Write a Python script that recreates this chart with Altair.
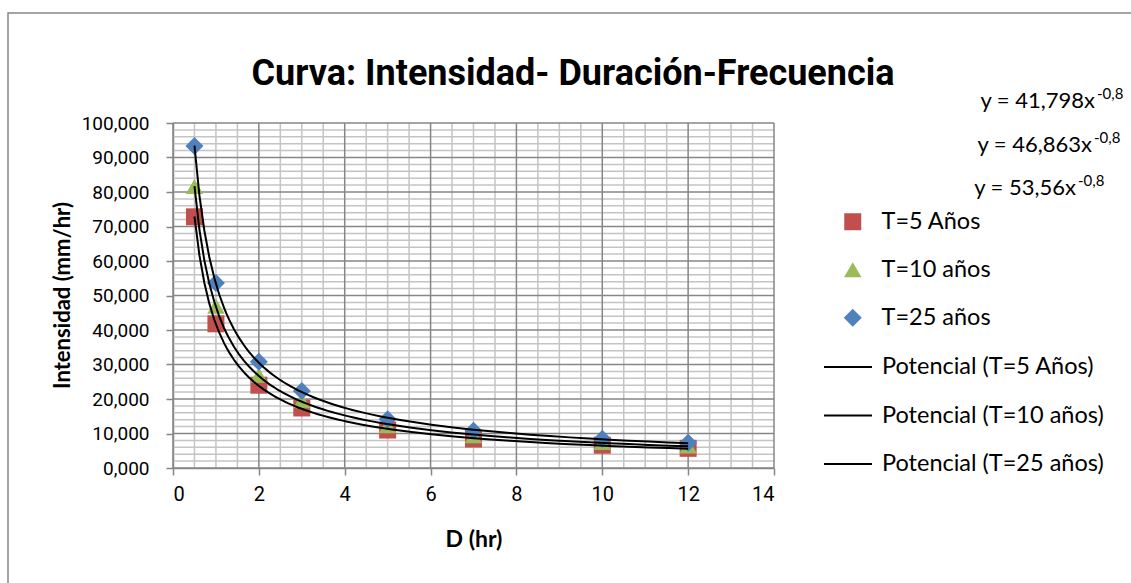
import altair as alt
import pandas as pd

# Duration (hr) and rainfall intensity (mm/hr) for each return period
durations = [0.5, 1, 2, 3, 5, 7, 10, 12]
t5 = [72.8, 41.8, 24.0, 17.4, 11.0, 8.4, 6.6, 5.7]
t10 = [81.6, 46.9, 26.9, 19.5, 12.3, 9.4, 7.4, 6.4]
t25 = [93.3, 53.6, 30.8, 22.3, 14.1, 10.8, 8.5, 7.3]

series = ["T=5 Años", "T=10 años", "T=25 años"]
trend_labels = ["Potencial (T=5 Años)", "Potencial (T=10 años)", "Potencial (T=25 años)"]
colors = ["#C0504D", "#9BBB59", "#4F81BD"]
shapes = ["square", "triangle-up", "diamond"]
marker_sizes = [289, 324, 420]

equations = ["y = 41,798x", "y = 46,863x", "y = 53,56x"]
exponent = "-0,8"
title_text = "Curva: Intensidad- Duración-Frecuencia"

NARROW = "Roboto"
SANS = "Lato"
MAJOR = "#868686"
MINOR = "#C4C4C4"

rows = []
for name, values in zip(series, [t5, t10, t25]):
    for d, v in zip(durations, values):
        rows.append({"D": d, "I": v, "serie": name})
df = pd.DataFrame(rows)

xs = alt.Scale(domain=[0, 14], nice=False, zero=False)
ys = alt.Scale(domain=[0, 100], nice=False)

x_axis = alt.Axis(
    values=list(range(0, 15, 2)), grid=False, tickSize=7, tickWidth=1.5,
    tickColor=MAJOR, domainColor=MAJOR, domainWidth=1.5,
    labelFont=NARROW, labelFontSize=20, labelColor="black", labelPadding=9,
    title="D (hr)", titleFont=SANS, titleFontSize=23, titleFontWeight="bold",
    titleColor="black", titleY=60, titleBaseline="top",
)
y_axis = alt.Axis(
    values=list(range(0, 101, 10)), grid=False, tickSize=7, tickWidth=1.5,
    tickColor=MAJOR, domainColor=MAJOR, domainWidth=1.5,
    labelFont=NARROW, labelFontSize=19, labelColor="black", labelPadding=17,
    labelExpr="replace(format(datum.value, '.3f'), '.', ',')",
    title="Intensidad (mm/hr)", titleFont=SANS, titleFontSize=22,
    titleFontWeight="bold", titleColor="black",
    titleX=-111, titleY=172, titleBaseline="middle", titleAngle=270,
)

# Grid: minor lines every 0.5 hr / 2 mm/hr, major every 2 hr / 10 mm/hr
minor_x = pd.DataFrame({"gx": [v / 2 for v in range(0, 29) if v % 4 != 0]})
major_x = pd.DataFrame({"gx": [v for v in range(0, 15, 2)]})
minor_y = pd.DataFrame({"gy": [v for v in range(0, 101, 2) if v % 10 != 0]})
major_y = pd.DataFrame({"gy": [v for v in range(0, 101, 10)]})


def vrules(data, color):
    return alt.Chart(data).mark_rule(color=color, strokeWidth=1.5).encode(
        x=alt.X("gx:Q", scale=xs, axis=x_axis)
    )


def hrules(data, color):
    return alt.Chart(data).mark_rule(color=color, strokeWidth=1.5).encode(
        y=alt.Y("gy:Q", scale=ys, axis=y_axis)
    )


grid = alt.layer(
    vrules(minor_x, MINOR), hrules(minor_y, MINOR),
    vrules(major_x, MAJOR), hrules(major_y, MAJOR),
)

points = alt.Chart(df).mark_point(filled=True, opacity=1, strokeWidth=0).encode(
    x=alt.X("D:Q", scale=xs, axis=x_axis),
    y=alt.Y("I:Q", scale=ys, axis=y_axis),
    color=alt.Color(
        "serie:N",
        scale=alt.Scale(domain=series, range=colors),
        legend=alt.Legend(
            title=None, orient="none", legendX=668, legendY=87, padding=0,
            labelFont=SANS, labelFontSize=23.5, labelColor="black", labelLimit=400,
            labelOffset=17, rowPadding=23, symbolSize=256,
            symbolStrokeWidth=0,
        ),
    ),
    shape=alt.Shape("serie:N", scale=alt.Scale(domain=series, range=shapes)),
    size=alt.Size("serie:N", scale=alt.Scale(domain=series, range=marker_sizes), legend=None),
    order=alt.Order("ord:Q"),
).transform_calculate(ord="indexof(%s, datum.serie)" % str(series))

# Power-law trend lines fitted to each series
trends = alt.Chart(df).transform_regression(
    "D", "I", groupby=["serie"], method="pow", extent=[0.5, 12]
).transform_calculate(
    trend="'Potencial (' + datum.serie + ')'"
).mark_line(strokeWidth=2).encode(
    x=alt.X("D:Q", scale=xs, axis=x_axis),
    y=alt.Y("I:Q", scale=ys, axis=y_axis),
    stroke=alt.Stroke(
        "trend:N",
        scale=alt.Scale(domain=trend_labels, range=["black"] * 3),
        legend=alt.Legend(
            title=None, orient="none", legendX=650, legendY=219, padding=0,
            labelFont=SANS, labelFontSize=23.5, labelColor="black", labelLimit=400,
            labelOffset=9, rowPadding=11.5, symbolType="stroke",
            symbolSize=2304, symbolStrokeWidth=2,
        ),
    ),
)

one = pd.DataFrame({"k": [0]})


def label(text, x, y, size, align="left", font=SANS, weight="normal"):
    return alt.Chart(one).mark_text(
        align=align, baseline="alphabetic", font=font, fontSize=size,
        fontWeight=weight, color="black",
    ).encode(x=alt.value(x), y=alt.value(y), text=alt.value(text))


# Trend-line equations with superscript exponent
eq_layers = []
for text, x_end, base in zip(equations, [922, 919, 903], [-15, 29, 72]):
    eq_layers.append(label(text, x_end, base, 22, align="right"))
    eq_layers.append(label(exponent, x_end + 2, base - 9, 15))

title = label(title_text, 400, -38, 36, align="center", font=NARROW, weight="bold")

frame = alt.Chart(one).mark_rect(
    fillOpacity=0, stroke=MAJOR, strokeWidth=1.5
).encode(x=alt.value(-165), x2=alt.value(980), y=alt.value(-110), y2=alt.value(480))

chart = alt.layer(
    grid, points, trends, title, frame, *eq_layers
).properties(
    width=601, height=345,
    autosize=alt.AutoSizeParams(type="none"),
    padding={"left": 173, "top": 123, "right": 357, "bottom": 115},
    background="white",
).configure_view(stroke=None)

chart.save("out.html", embed_options={"renderer": "svg", "actions": False})
